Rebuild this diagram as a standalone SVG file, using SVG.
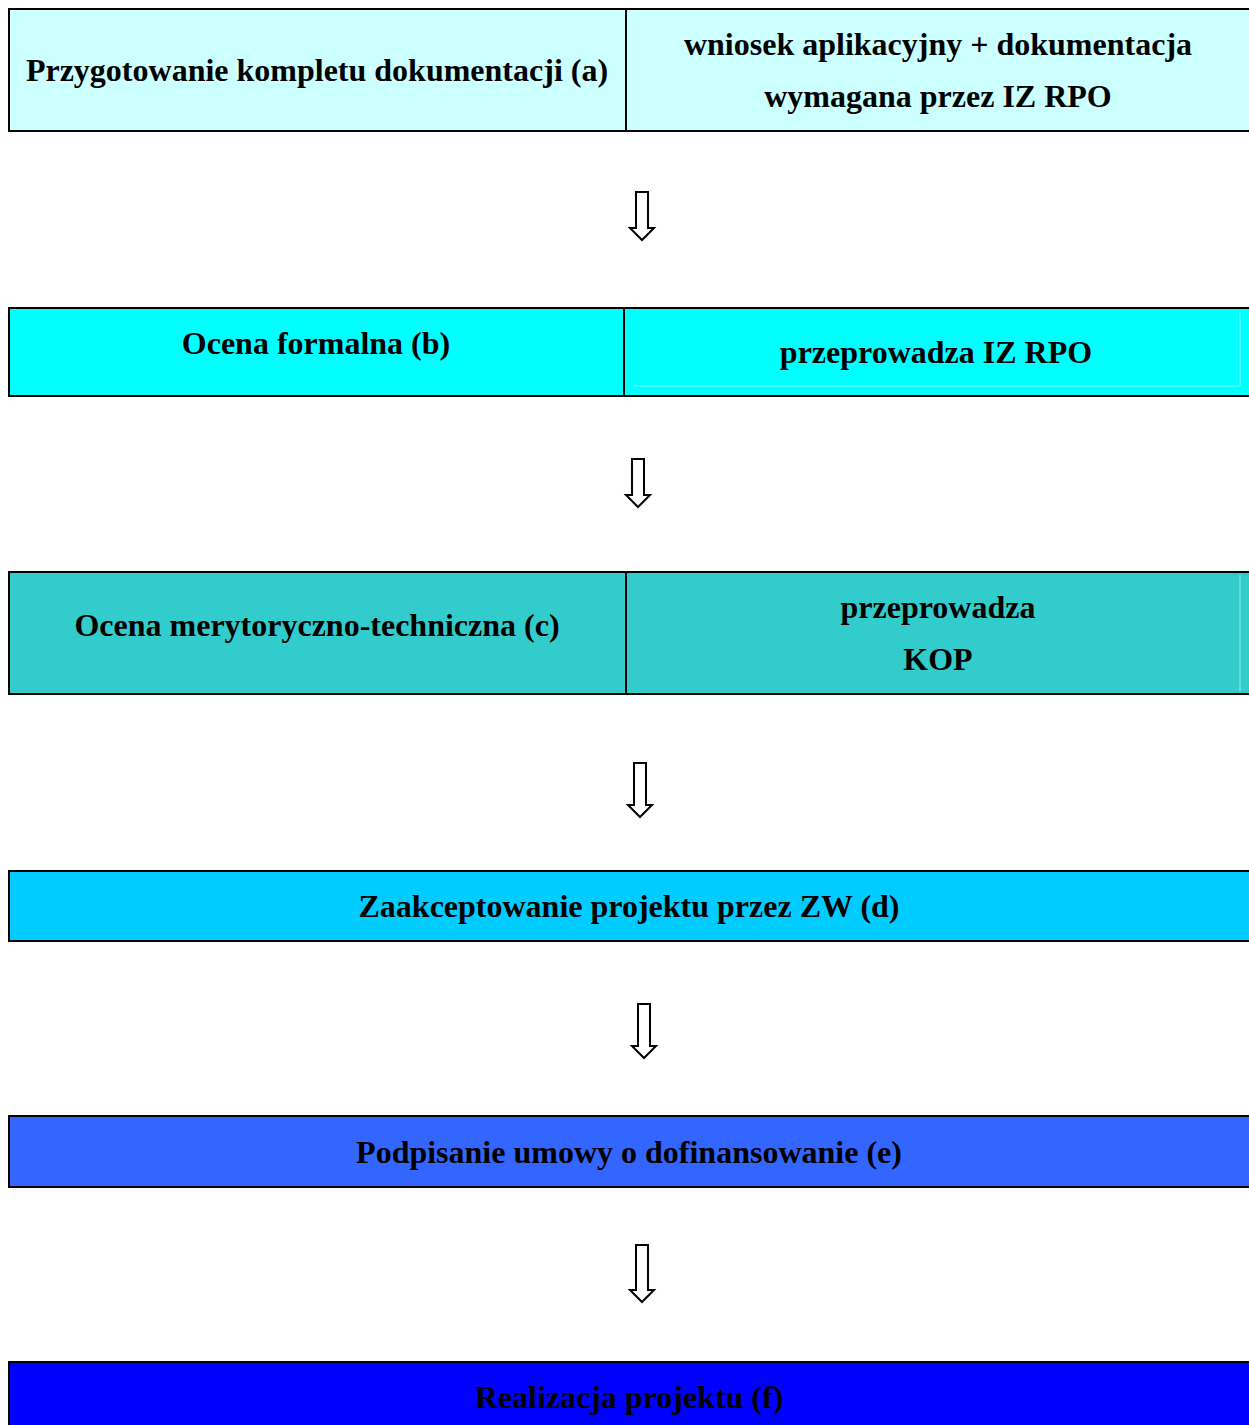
<svg xmlns="http://www.w3.org/2000/svg" width="1249" height="1425" viewBox="0 0 1249 1425">
<style>
.box{stroke:#000;stroke-width:2}
.div{stroke:#000;stroke-width:2}
.inner{stroke:#e6ffff;stroke-width:1;fill:none;opacity:0.6}
text{font-family:"Liberation Serif","Times New Roman",serif;font-weight:bold;font-size:32px;fill:#000;text-anchor:middle}
.arrow{fill:#fff;stroke:#000;stroke-width:2;stroke-linejoin:miter}
</style>
<rect width="1249" height="1425" fill="#fff"/>
<g id="node-a">
<rect class="box" x="9" y="9" width="1250" height="122" fill="#CCFFFF"/>
<line class="div" x1="626" y1="9" x2="626" y2="131"/>
<line class="inner" x1="1240" y1="12" x2="1240" y2="128"/>
<text x="317" y="81">Przygotowanie kompletu dokumentacji (a)</text>
<text x="938" y="55">wniosek aplikacyjny + dokumentacja</text>
<text x="938" y="107">wymagana przez IZ RPO</text>
</g>
<g id="node-b">
<rect class="box" x="9" y="308" width="1250" height="88" fill="#00FFFF"/>
<line class="div" x1="624" y1="308" x2="624" y2="396"/>
<polyline class="inner" points="634,386 1240,386 1240,312"/>
<text x="316" y="354">Ocena formalna (b)</text>
<text x="936" y="363">przeprowadza IZ RPO</text>
</g>
<g id="node-c">
<rect class="box" x="9" y="572" width="1250" height="122" fill="#33CCCC"/>
<line class="div" x1="626" y1="572" x2="626" y2="694"/>
<line class="inner" x1="1240" y1="575" x2="1240" y2="691"/>
<text x="317" y="636">Ocena merytoryczno-techniczna (c)</text>
<text x="938" y="618">przeprowadza</text>
<text x="938" y="670">KOP</text>
</g>
<g id="node-d">
<rect class="box" x="9" y="871" width="1250" height="70" fill="#00CCFF"/>
<text x="629" y="917">Zaakceptowanie projektu przez ZW (d)</text>
</g>
<g id="node-e">
<rect class="box" x="9" y="1116" width="1250" height="71" fill="#3366FF"/>
<text x="629" y="1163">Podpisanie umowy o dofinansowanie (e)</text>
</g>
<g id="node-f">
<rect class="box" x="9" y="1362" width="1250" height="80" fill="#0000FF"/>
<text x="629" y="1408">Realizacja projektu (f)</text>
</g>
<g id="connectors">
<path class="arrow" d="M636,192 H648 V228 H654 L642,240 L630,228 H636 Z"/>
<path class="arrow" d="M632,459 H644 V495 H650 L638,507 L626,495 H632 Z"/>
<path class="arrow" d="M634,763 H646 V805 H652 L640,817 L628,805 H634 Z"/>
<path class="arrow" d="M638,1004 H650 V1046 H656 L644,1058 L632,1046 H638 Z"/>
<path class="arrow" d="M636,1245 H648 V1290 H654 L642,1302 L630,1290 H636 Z"/>
</g>
</svg>
